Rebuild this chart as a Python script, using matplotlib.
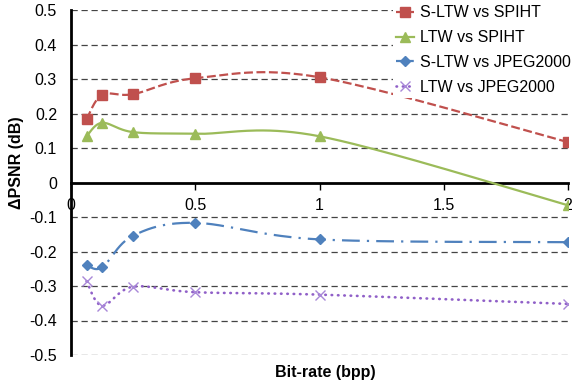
import numpy as np
import matplotlib
matplotlib.use("Agg")
import matplotlib.pyplot as plt

plt.rcParams["font.family"] = ["Liberation Sans", "DejaVu Sans"]

bitrate = [0.0625, 0.125, 0.25, 0.5, 1, 2]
sltw_spiht = [0.183, 0.254, 0.256, 0.302, 0.305, 0.117]
ltw_spiht = [0.134, 0.173, 0.146, 0.141, 0.134, -0.066]
sltw_jpeg = [-0.239, -0.246, -0.154, -0.117, -0.165, -0.173]
ltw_jpeg = [-0.286, -0.357, -0.302, -0.318, -0.325, -0.352]

labels = ["S-LTW vs SPIHT", "LTW vs SPIHT", "S-LTW vs JPEG2000", "LTW vs JPEG2000"]
colors = ["#C0504D", "#9BBB59", "#4F81BD", "#9060C8"]
marker_colors = ["#C0504D", "#9BBB59", "#4F81BD", "#A887D8"]
yticks = [-0.5, -0.4, -0.3, -0.2, -0.1, 0, 0.1, 0.2, 0.3, 0.4, 0.5]
ytick_labels = ["-0.5", "-0.4", "-0.3", "-0.2", "-0.1", "0",
                "0.1", "0.2", "0.3", "0.4", "0.5"]


def smooth(x, y, sx=248.6, sy=345.0, n=40):
    # Excel-style smoothed line (bezier through the points, screen scaled)
    P = np.column_stack([np.array(x) * sx, np.array(y) * sy])
    out = []
    for i in range(len(P) - 1):
        p0 = P[i - 1] if i > 0 else P[i]
        p3 = P[i + 2] if i + 2 < len(P) else P[i + 1]
        c1 = P[i] + (P[i + 1] - p0) / 6
        c2 = P[i + 1] - (p3 - P[i]) / 6
        t = np.linspace(0, 1, n)[:, None]
        seg = ((1 - t) ** 3 * P[i] + 3 * (1 - t) ** 2 * t * c1
               + 3 * (1 - t) * t ** 2 * c2 + t ** 3 * P[i + 1])
        out.append(seg if i == 0 else seg[1:])
    out = np.vstack(out)
    return out[:, 0] / sx, out[:, 1] / sy


fig = plt.figure(figsize=(5.74, 3.86), dpi=100)
ax = fig.add_axes([71 / 574, 31 / 386, 497 / 574, 345 / 386])

for yv in yticks:
    if yv != 0:
        ax.axhline(yv, color="#444444", lw=0.9, dashes=(5, 3), zorder=1)

styles = [
    dict(marker="s", ms=7, dashes=(4, 1.6), lw=1.6),
    dict(marker="^", ms=7, linestyle="-", lw=1.6),
    dict(marker="D", ms=5.5, dashes=(8, 3.2, 1, 3.2), lw=1.6),
    dict(marker="x", ms=7, mew=1.0, dashes=(0.2, 2.2), lw=1.9,
         dash_capstyle="round"),
]
series = [sltw_spiht, ltw_spiht, sltw_jpeg, ltw_jpeg]
handles = []
for vals, lab, col, mcol, st in zip(series, labels, colors, marker_colors, styles):
    sx_, sy_ = smooth(bitrate, vals)
    st = dict(st)
    marker = st.pop("marker")
    ms = st.pop("ms")
    mew = st.pop("mew", 1.0)
    ax.plot(sx_, sy_, color=col, zorder=3, **st)
    ax.plot(bitrate, vals, linestyle="none", marker=marker, ms=ms, mew=mew,
            color=mcol, zorder=4)
    h, = ax.plot([], [], color=col, marker=marker, ms=ms, mew=mew,
                 mfc=mcol, mec=mcol, **st)
    handles.append(h)

ax.set_xlim(0, 2)
ax.set_ylim(-0.5, 0.5)
ax.spines["top"].set_visible(False)
ax.spines["right"].set_visible(False)
ax.spines["bottom"].set_position(("data", 0))
ax.spines["bottom"].set_linewidth(2)
ax.spines["left"].set_linewidth(2)
ax.set_xticks([0, 0.5, 1, 1.5, 2])
ax.set_xticklabels(["0", "0.5", "1", "1.5", "2"])
ax.set_yticks(yticks)
ax.set_yticklabels(ytick_labels)
ax.tick_params(axis="x", direction="out", length=5, width=1, labelsize=11.5, pad=6)
ax.tick_params(axis="y", length=0, labelsize=11.5, pad=10)

fig.text(17 / 574, 1 - 163 / 386, "ΔPSNR (dB)", fontsize=11.5,
         fontweight="bold", ha="center", va="center", rotation=90)
fig.text(325 / 574, 1 - 372 / 386, "Bit-rate (bpp)", fontsize=11.5,
         fontweight="bold", ha="center", va="center")

leg = fig.legend(handles, labels, loc="upper left",
                 bbox_to_anchor=(393 / 574, 1 - 2 / 386),
                 frameon=True, fontsize=11.5, handlelength=1.1,
                 handletextpad=0.4, labelspacing=0.62, borderaxespad=0,
                 borderpad=0.2, fancybox=False)
leg.get_frame().set_facecolor("white")
leg.get_frame().set_edgecolor("none")
leg.get_frame().set_alpha(1)

fig.savefig("out.png", dpi=100)
